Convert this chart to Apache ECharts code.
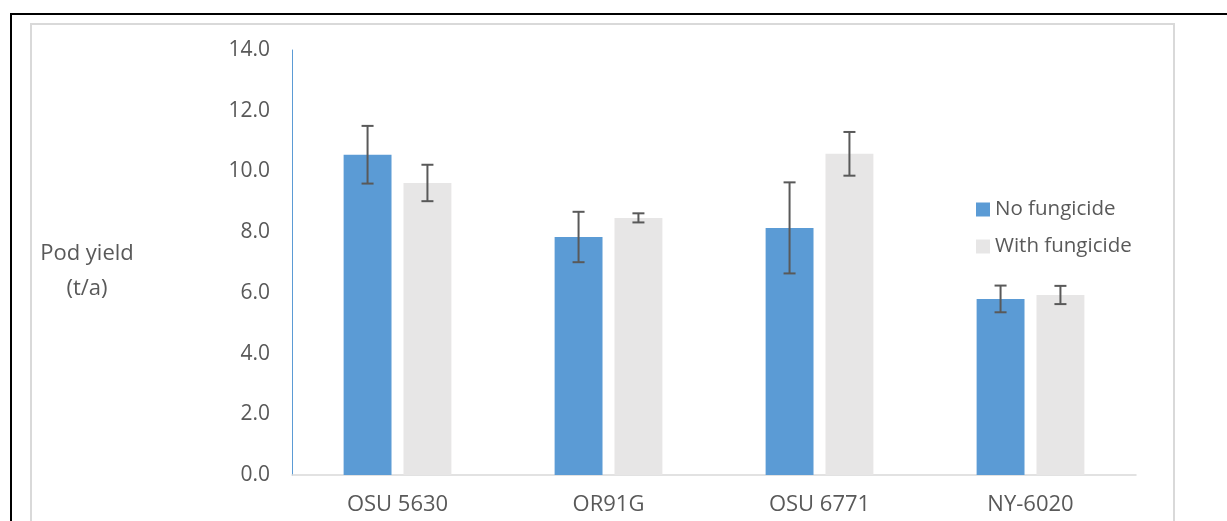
<!DOCTYPE html>
<html>
<head>
<meta charset="utf-8">
<script src="https://cdn.jsdelivr.net/npm/echarts@6/dist/echarts.min.js"></script>
<style>
html, body { margin: 0; padding: 0; background: #fff; }
#chart { width: 1227px; height: 521px; }
</style>
</head>
<body>
<div id="chart"></div>
<script>
var categories = ['OSU 5630', 'OR91G', 'OSU 6771', 'NY-6020'];
var noFungicide = [10.55, 7.84, 8.14, 5.8];
var withFungicide = [9.62, 8.47, 10.58, 5.93];
var noFungicideErr = [0.95, 0.83, 1.5, 0.44];
var withFungicideErr = [0.6, 0.15, 0.72, 0.3];

var textColor = '#595959';
var fontFamily = 'Open Sans, sans-serif';

// error bars drawn from bar center with caps
function errorBarItem(values, errs, side) {
    return function (params, api) {
        var idx = api.value(0);
        var val = values[idx];
        var err = errs[idx];
        var band = api.size([1, 0])[0];
        var w = band * 0.227;
        var g = w * 0.25;
        var offset = side * (w + g) / 2;
        var hi = api.coord([idx, val + err]);
        var lo = api.coord([idx, val - err]);
        var x = hi[0] + offset;
        var cap = 6;
        var style = { stroke: '#595959', lineWidth: 2 };
        return {
            type: 'group',
            children: [
                { type: 'line', shape: { x1: x, y1: hi[1], x2: x, y2: lo[1] }, style: style },
                { type: 'line', shape: { x1: x - cap, y1: hi[1], x2: x + cap, y2: hi[1] }, style: style },
                { type: 'line', shape: { x1: x - cap, y1: lo[1], x2: x + cap, y2: lo[1] }, style: style }
            ]
        };
    };
}

var option = {
    animation: false,
    backgroundColor: '#fff',
    textStyle: { fontFamily: fontFamily },
    grid: { left: 292, right: 91, top: 50, bottom: 46 },
    legend: {
        orient: 'vertical',
        left: 971,
        top: 194,
        icon: 'rect',
        itemWidth: 14,
        itemHeight: 14,
        itemGap: 16,
        textStyle: { color: textColor, fontSize: 20.5, fontFamily: fontFamily },
        data: ['No fungicide', 'With fungicide']
    },
    xAxis: {
        type: 'category',
        data: categories,
        axisLine: { lineStyle: { color: '#d9d9d9', width: 1.5 } },
        axisTick: { show: false },
        axisLabel: { color: textColor, fontSize: 22, margin: 19, fontFamily: fontFamily }
    },
    yAxis: {
        type: 'value',
        min: 0,
        max: 14,
        interval: 2,
        splitLine: { show: false },
        axisLine: { show: true, lineStyle: { color: '#5b9bd5', width: 1 } },
        axisTick: { show: false },
        axisLabel: {
            color: textColor, fontSize: 21, margin: 22, fontFamily: fontFamily,
            formatter: function (v) { return v.toFixed(1); }
        }
    },
    graphic: [
        { type: 'rect', shape: { x: 11, y: 14, width: 1240, height: 540 }, style: { fill: 'none', stroke: '#000', lineWidth: 2 } },
        { type: 'rect', shape: { x: 31, y: 24, width: 1143, height: 540 }, style: { fill: 'none', stroke: '#d9d9d9', lineWidth: 2 } },
        {
            type: 'text', x: 87, y: 236,
            style: {
                text: 'Pod yield\n(t/a)', fill: textColor, font: '22px ' + fontFamily,
                align: 'center', verticalAlign: 'top', lineHeight: 35
            }
        }
    ],
    series: [
        {
            name: 'No fungicide', type: 'bar', data: noFungicide,
            barWidth: '22.7%', barGap: '25%',
            itemStyle: { color: '#5b9bd5' }
        },
        {
            name: 'With fungicide', type: 'bar', data: withFungicide,
            barWidth: '22.7%', barGap: '25%',
            itemStyle: { color: '#e7e6e6' }
        },
        {
            type: 'custom', data: categories.map(function (c, i) { return [i]; }),
            renderItem: errorBarItem(noFungicide, noFungicideErr, -1), z: 10
        },
        {
            type: 'custom', data: categories.map(function (c, i) { return [i]; }),
            renderItem: errorBarItem(withFungicide, withFungicideErr, 1), z: 10
        }
    ]
};

var chart = echarts.init(document.getElementById('chart'));
chart.setOption(option);
</script>
</body>
</html>
